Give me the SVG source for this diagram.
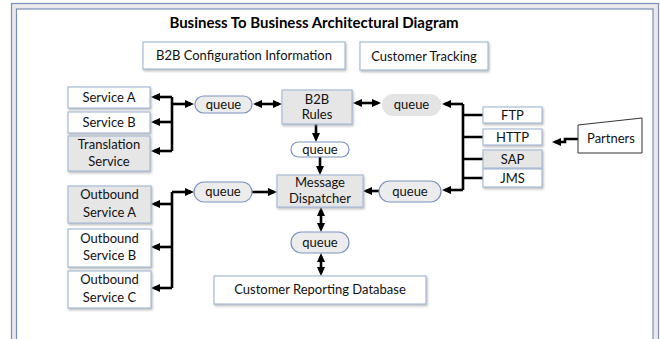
<svg xmlns="http://www.w3.org/2000/svg" width="660" height="339" viewBox="0 0 660 339">
<style>
.t{font-family:Lato,"Liberation Sans",sans-serif;font-size:13px;fill:#111;text-anchor:middle}
.ti{font-family:Lato,"Liberation Sans",sans-serif;font-size:15px;font-weight:bold;fill:#000;text-anchor:middle}
.bw{fill:#fff;stroke:#a9bbd6;stroke-width:1.2;filter:url(#sh)}
.bg{fill:#e6e6e6;stroke:#a9bbd6;stroke-width:1.2;filter:url(#sh)}
.q{fill:#ececec;stroke:#7d93bf;stroke-width:1.2}
.qw{fill:#fff;stroke:#7d93bf;stroke-width:1.2}
.c{fill:none;stroke:#000;stroke-width:2.6}
.a{marker-end:url(#ah)}
.d{marker-start:url(#ah);marker-end:url(#ah)}
</style>
<defs>
<filter id="sh" x="-10%" y="-10%" width="130%" height="140%">
<feDropShadow dx="1" dy="1.5" stdDeviation="0.8" flood-color="#888" flood-opacity="0.6"/>
</filter>
<marker id="ah" markerUnits="userSpaceOnUse" markerWidth="9" markerHeight="9" viewBox="0 0 9 9" refX="6" refY="4.5" orient="auto-start-reverse">
<path d="M0,0.5 L9,4.5 L0,8.5 z" fill="#000"/>
</marker>
</defs>
<g id="frame">
<rect x="11.5" y="3.5" width="647" height="400" fill="#e9e9e9" stroke="#7b8fba" stroke-width="1.2"/>
<rect x="16.5" y="9" width="636.5" height="400" fill="#fff" stroke="#7b8fba" stroke-width="1.2"/>
</g>
<text class="ti" x="314" y="28">Business To Business Architectural Diagram</text>
<g id="connectors">
<path class="c" d="M172,97 V151"/>
<path class="c a" d="M172,97 H154"/>
<path class="c a" d="M172,122 H154"/>
<path class="c a" d="M172,151 H154"/>
<path class="c a" d="M172,104 H191"/>
<path class="c d" d="M256,104 H279"/>
<path class="c d" d="M356,103 H378"/>
<path class="c" d="M463,104 V190"/>
<path class="c a" d="M463,104 H445"/>
<path class="c a" d="M463,190 H445"/>
<path class="c" d="M463,115 H484 M463,137 H484 M463,159 H484 M463,178 H484"/>
<path class="c a" d="M578,139 H565 V142 H555"/>
<path class="c a" d="M316,124 V139"/>
<path class="c a" d="M320,157 V172"/>
<path class="c" d="M172,192 V288"/>
<path class="c a" d="M172,192 H191"/>
<path class="c a" d="M172,204 H154"/>
<path class="c a" d="M172,247 H154"/>
<path class="c a" d="M172,288 H154"/>
<path class="c a" d="M252,192 H274"/>
<path class="c a" d="M379,191 H366"/>
<path class="c d" d="M321,210 V229"/>
<path class="c d" d="M321,256 V273"/>
</g>
<g id="b2b-config"><rect class="bw" x="143" y="42" width="202" height="27"/><text class="t" x="244" y="60">B2B Configuration Information</text></g>
<g id="customer-tracking"><rect class="bw" x="360" y="42" width="128" height="28"/><text class="t" x="424" y="61">Customer Tracking</text></g>
<g id="service-a"><rect class="bw" x="68" y="87" width="82" height="21"/><text class="t" x="109" y="102">Service A</text></g>
<g id="service-b"><rect class="bw" x="68" y="112" width="82" height="21"/><text class="t" x="109" y="127">Service B</text></g>
<g id="translation-service"><rect class="bg" x="68" y="136" width="82" height="35"/><text class="t" x="109" y="149">Translation</text><text class="t" x="109" y="166">Service</text></g>
<g id="queue-1"><rect class="q" x="195" y="96" width="57" height="17" rx="8.5"/><text class="t" x="223.5" y="109">queue</text></g>
<g id="b2b-rules"><rect class="bg" x="282" y="90" width="70" height="34"/><text class="t" x="317" y="104">B2B</text><text class="t" x="317" y="119">Rules</text></g>
<g id="queue-2"><rect x="382" y="94" width="59" height="22" rx="11" fill="#e4e4e4"/><text class="t" x="411.5" y="109">queue</text></g>
<g id="queue-3"><rect class="qw" x="291" y="142" width="58" height="15" rx="7.5"/><text class="t" x="320" y="154">queue</text></g>
<g id="ftp"><rect class="bw" x="483" y="107" width="59" height="16"/><text class="t" x="512.5" y="120">FTP</text></g>
<g id="http"><rect class="bw" x="483" y="129" width="59" height="16"/><text class="t" x="512.5" y="142">HTTP</text></g>
<g id="sap"><rect class="bg" x="483" y="150" width="59" height="18"/><text class="t" x="512.5" y="164">SAP</text></g>
<g id="jms"><rect class="bw" x="483" y="169" width="59" height="18"/><text class="t" x="512.5" y="183">JMS</text></g>
<g id="partners"><polygon points="578,125 642,118 642,153 578,153" fill="#fff" stroke="#333" stroke-width="1"/><text class="t" x="611" y="143">Partners</text></g>
<g id="message-dispatcher"><rect class="bg" x="277" y="175" width="86" height="32"/><text class="t" x="320" y="187">Message</text><text class="t" x="320" y="203">Dispatcher</text></g>
<g id="queue-4"><rect class="q" x="194" y="182" width="58" height="20" rx="10"/><text class="t" x="223" y="196">queue</text></g>
<g id="queue-5"><rect class="q" x="379" y="181" width="62" height="21" rx="10.5"/><text class="t" x="410" y="196">queue</text></g>
<g id="outbound-a"><rect class="bg" x="68" y="186" width="83" height="37"/><text class="t" x="109.5" y="199">Outbound</text><text class="t" x="109.5" y="217">Service A</text></g>
<g id="outbound-b"><rect class="bw" x="68" y="229" width="83" height="38"/><text class="t" x="109.5" y="243">Outbound</text><text class="t" x="109.5" y="260">Service B</text></g>
<g id="outbound-c"><rect class="bw" x="68" y="271" width="83" height="37"/><text class="t" x="109.5" y="284">Outbound</text><text class="t" x="109.5" y="302">Service C</text></g>
<g id="queue-6"><rect class="q" x="291" y="232" width="58" height="21" rx="10.5"/><text class="t" x="320" y="247">queue</text></g>
<g id="customer-reporting-db"><rect class="bw" x="214" y="276" width="212" height="28"/><text class="t" x="320" y="294">Customer Reporting Database</text></g>
</svg>
